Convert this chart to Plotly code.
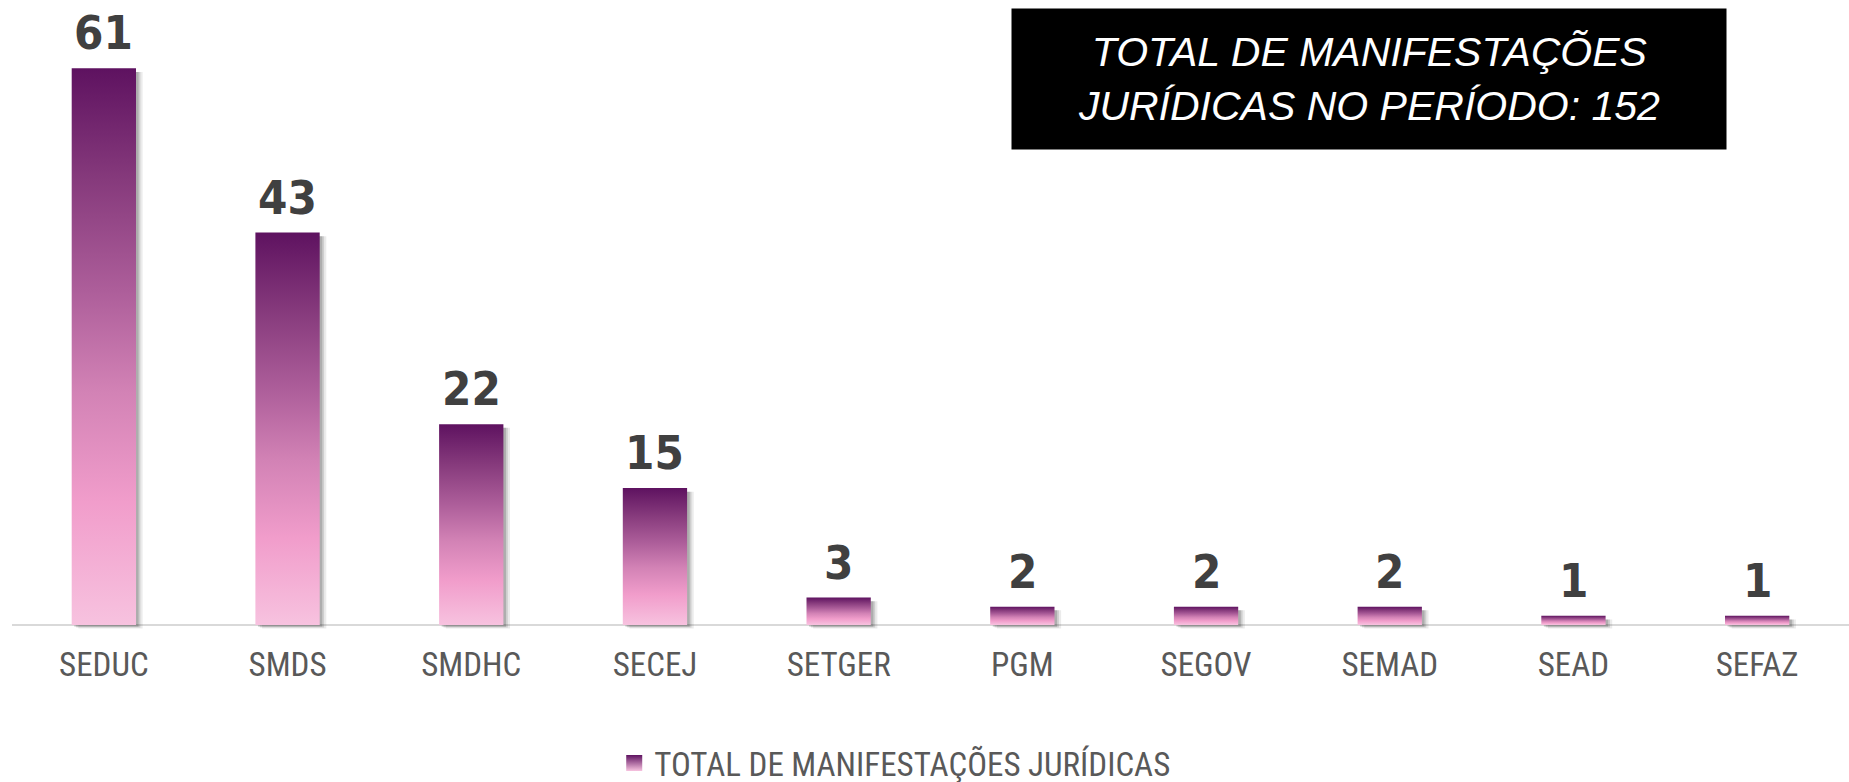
import plotly.graph_objects as go

categories = ["SEDUC", "SMDS", "SMDHC", "SECEJ", "SETGER", "PGM", "SEGOV", "SEMAD", "SEAD", "SEFAZ"]
values = [61, 43, 22, 15, 3, 2, 2, 2, 1, 1]
series_name = "TOTAL DE MANIFESTAÇÕES JURÍDICAS"
total_text = "TOTAL DE MANIFESTAÇÕES<br>JURÍDICAS NO PERÍODO: 152"

GRAD = [[0.0, "#F7C2DF"], [0.22, "#F19DCB"], [0.42, "#D282B5"],
        [0.6, "#AD5E9A"], [0.8, "#863A7C"], [1.0, "#5E1260"]]
HALF = 0.175
NARROW = "Roboto Condensed, Liberation Sans, Arial"

fig = go.Figure()

for i, v in enumerate(values):
    for dx, dy, a in [(0.036, 0.4, 0.08), (0.024, 0.3, 0.12), (0.014, 0.2, 0.16)]:
        x0, x1 = i - HALF + dx, i + HALF + dx
        fig.add_trace(go.Scatter(
            x=[x0, x1, x1, x0, x0], y=[-dy, -dy, v - 0.4, v - 0.4, -dy],
            mode="lines", fill="toself", line=dict(width=0),
            fillcolor=f"rgba(0,0,0,{a})", hoverinfo="skip", showlegend=False))

for i, v in enumerate(values):
    x0, x1 = i - HALF, i + HALF
    fig.add_trace(go.Scatter(
        x=[x0, x1, x1, x0, x0], y=[0, 0, v, v, 0],
        mode="lines", fill="toself", line=dict(width=0),
        fillgradient=dict(type="vertical", colorscale=GRAD),
        name=series_name, legendgroup="s", showlegend=False,
        hovertemplate=f"{categories[i]}: {v}<extra></extra>"))

fig.add_trace(go.Scatter(x=[None], y=[None], mode="markers", name=series_name, legendgroup="s",
                         marker=dict(symbol="square", size=17, color="#5E1260",
                                     gradient=dict(type="vertical", color="#F7C2DF"))))

for i, v in enumerate(values):
    fig.add_annotation(x=i, y=v, text=str(v), showarrow=False, yanchor="bottom", yshift=6,
                       font=dict(family="DejaVu Sans Condensed, DejaVu Sans", size=47,
                                 color="#404040", weight="bold"))

fig.add_annotation(xref="paper", yref="paper", x=(1369 - 12) / 1837, y=1 - (79 - 9) / 625,
                   text="<i>" + total_text + "</i>", showarrow=False,
                   xanchor="center", yanchor="middle", align="center",
                   bgcolor="#000000", width=706, height=132, borderpad=4,
                   font=dict(family="Liberation Sans, Arial", size=41, color="#FFFFFF"))

fig.update_layout(
    width=1849, height=782,
    margin=dict(l=12, r=0, t=9, b=148),
    paper_bgcolor="white", plot_bgcolor="white",
    xaxis=dict(range=[-0.5, 9.5], tickmode="array", tickvals=list(range(len(categories))),
               ticktext=categories, showgrid=False, zeroline=False, showline=False,
               ticklabelstandoff=8,
               tickfont=dict(family=NARROW, size=33, color="#595959"), fixedrange=True),
    yaxis=dict(range=[-1, 67.5], showgrid=False, zeroline=True, zerolinecolor="#D9D9D9",
               zerolinewidth=2, showticklabels=False, fixedrange=True),
    legend=dict(orientation="h", x=(628 - 12) / 1837 - 0.0075, xanchor="left",
                yref="container", y=1 - 763 / 782, yanchor="middle",
                font=dict(family=NARROW, size=33, color="#595959")),
    showlegend=True,
)

fig.write_html("out.html", config={"displayModeBar": False},
               post_script="document.body.style.margin='0';document.body.style.overflow='hidden';")
